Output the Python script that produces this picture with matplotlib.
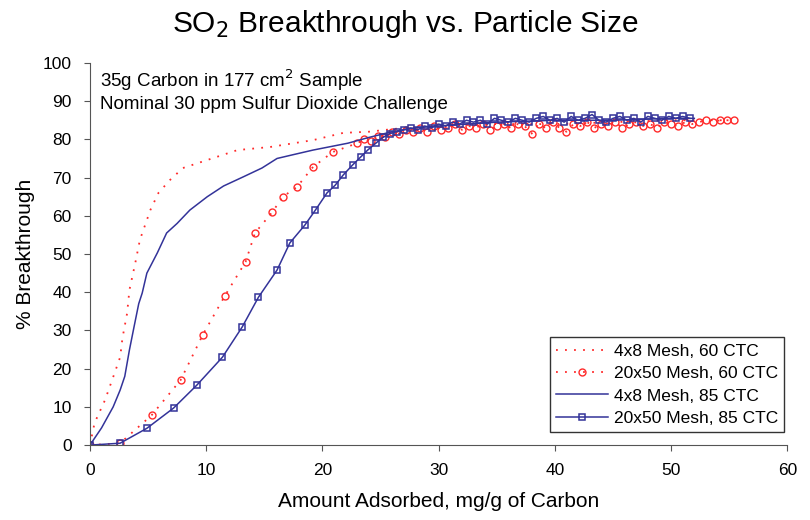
import matplotlib
matplotlib.use("Agg")
import matplotlib.pyplot as plt

plt.rcParams['font.family'] = ['Liberation Sans', 'DejaVu Sans']

RED = "#ff2a2a"
NAVY = "#333399"

# 4x8 Mesh, 60 CTC (red dotted, no markers)
x_48_60 = [0, 0.4, 1.3, 2.0, 2.6, 2.8, 3.2, 3.4, 3.9, 4.3, 5.2, 5.9, 6.9, 8.0,
           9.5, 12.7, 15.5, 19.2, 21.8, 24, 27, 30, 35, 40, 45, 50, 55]
y_48_60 = [0, 5.8, 11.8, 17.8, 23, 28, 34.5, 40.6, 47.6, 53.7, 61.5, 66, 69.4,
           72.5, 74, 77.2, 78, 79.8, 81.7, 82, 83, 83.5, 84, 84, 84.5, 85, 85]

# 20x50 Mesh, 60 CTC (red dotted, circle markers)
x_2050_60 = [0, 2.6, 5.3, 7.8, 9.7, 11.6, 13.4, 14.2, 15.7, 16.6, 17.8, 19.2,
             20.9, 23.0, 23.6, 24.2, 24.8, 25.4, 26.0, 26.6, 27.2, 27.8, 28.4,
             29.0, 29.6, 30.2, 30.8, 31.4, 32.0, 32.6, 33.2, 33.8, 34.4, 35.0,
             35.6, 36.2, 36.8, 37.4, 38.0, 38.6, 39.2, 39.8, 40.4, 41.0, 41.6,
             42.2, 42.8, 43.4, 44.0, 44.6, 45.2, 45.8, 46.4, 47.0, 47.6, 48.2,
             48.8, 49.4, 50.0, 50.6, 51.2, 51.8, 52.4, 53.0, 53.6, 54.2, 54.8,
             55.4]
y_2050_60 = [0, 0.5, 7.8, 17, 28.8, 39, 48, 55.5, 61, 65, 67.5, 72.8,
             76.7, 79, 80, 79.5, 81, 80.5, 82, 81.5, 82.5, 82, 83,
             82, 83.5, 82.5, 83, 84, 82.5, 83.5, 83, 84, 82.5, 83.5,
             84, 83, 84, 83.5, 81.5, 84, 83, 84.5, 83, 82, 84,
             83.5, 84.5, 83, 84, 83.5, 84.5, 83, 84, 84.5, 83.5, 84,
             83, 84.5, 84, 83.5, 84.5, 84, 84.5, 85, 84.5, 85, 85,
             85]

# 4x8 Mesh, 85 CTC (navy solid)
x_48_85 = [0, 1.0, 2.0, 2.6, 3.0, 3.4, 3.8, 4.2, 4.5, 4.9, 5.8, 6.6, 7.5, 8.6,
           10.1, 11.5, 13.2, 14.8, 16.1, 17.5, 19.2, 22.2, 24, 26, 28, 30, 35,
           40, 45, 50, 52]
y_48_85 = [0, 4.5, 10, 14.4, 18, 24.9, 31, 37, 39.8, 45, 50.3, 55.5, 58, 61.5,
           65, 67.8, 70.2, 72.5, 75, 76, 77.2, 79, 80.5, 82, 83, 83.5, 84.5,
           85, 85, 85.5, 85.5]

# 20x50 Mesh, 85 CTC (navy solid, square markers)
x_2050_85 = [0, 2.6, 4.9, 7.2, 9.2, 11.4, 13.1, 14.5, 16.1, 17.2, 18.5, 19.4,
             20.4, 21.1, 21.8, 22.6, 23.3, 23.9, 24.6, 25.2, 25.8, 26.4, 27.0,
             27.6, 28.2, 28.8, 29.4, 30.0, 30.6, 31.2, 31.8, 32.4, 33.0, 33.6,
             34.2, 34.8, 35.4, 36.0, 36.6, 37.2, 37.8, 38.4, 39.0, 39.6, 40.2,
             40.8, 41.4, 42.0, 42.6, 43.2, 43.8, 44.4, 45.0, 45.6, 46.2, 46.8,
             47.4, 48.0, 48.6, 49.2, 49.8, 50.4, 51.0, 51.6]
y_2050_85 = [0, 0.5, 4.4, 9.7, 15.7, 23, 30.9, 38.7, 45.8, 52.9, 57.6, 61.5,
             66, 68, 70.7, 73.3, 75.4, 77.2, 79, 80.5, 81.5, 82, 82.5,
             83, 82.5, 83.5, 83, 84, 83.5, 84.5, 84, 85, 84.5, 85,
             84, 85.5, 85, 84.5, 85.5, 85, 84.5, 85.5, 86, 85, 85.5,
             84.5, 86, 85, 85.5, 86.5, 85, 84.5, 85.5, 86, 85, 85.5,
             84.5, 86, 85.5, 85, 86, 85.5, 86, 85.5]

fig = plt.figure(figsize=(8.1, 5.2), dpi=100)
ax = fig.add_axes([0.111, 0.144, 0.861, 0.735])

ax.plot(x_48_60, y_48_60, color=RED, lw=1.3, linestyle=(0, (1, 4)),
        label="4x8 Mesh, 60 CTC")
ax.plot(x_2050_60, y_2050_60, color=RED, lw=1.3, linestyle=(0, (1, 4)),
        marker="o", markersize=5, markerfacecolor="none", markeredgewidth=1,
        label="20x50 Mesh, 60 CTC")
ax.plot(x_48_85, y_48_85, color=NAVY, lw=1.1, label="4x8 Mesh, 85 CTC")
ax.plot(x_2050_85, y_2050_85, color=NAVY, lw=1.1, marker="s", markersize=5,
        markerfacecolor="none", markeredgewidth=1.1,
        label="20x50 Mesh, 85 CTC")

ax.set_xlim(0, 60)
ax.set_ylim(0, 100)
ax.set_xticks(range(0, 61, 10))
ax.set_yticks(range(0, 101, 10))
ax.tick_params(labelsize=12.5, length=4, color="#555555", pad=9)
for side in ("top", "right"):
    ax.spines[side].set_visible(False)
for side in ("left", "bottom"):
    ax.spines[side].set_color("#555555")

ax.set_xlabel("Amount Adsorbed, mg/g of Carbon", fontsize=15, labelpad=10)
ax.set_ylabel("% Breakthrough", fontsize=15, labelpad=6)
fig.suptitle("SO$_2$ Breakthrough vs. Particle Size", fontsize=21.5, y=0.985)

ax.text(0.015, 0.955, "35g Carbon in 177 cm$^2$ Sample", transform=ax.transAxes,
        fontsize=13.5, va="center")
ax.text(0.015, 0.89, "Nominal 30 ppm Sulfur Dioxide Challenge",
        transform=ax.transAxes, fontsize=13.5, va="center")

leg = ax.legend(loc="lower right", bbox_to_anchor=(1.0, 0.025), fontsize=12.5,
                frameon=True, fancybox=False, edgecolor="black",
                handlelength=3.0, borderpad=0.35, labelspacing=0.42,
                handletextpad=0.3, borderaxespad=0.2)
leg.get_frame().set_linewidth(1.0)

fig.savefig("out.png", dpi=100)
